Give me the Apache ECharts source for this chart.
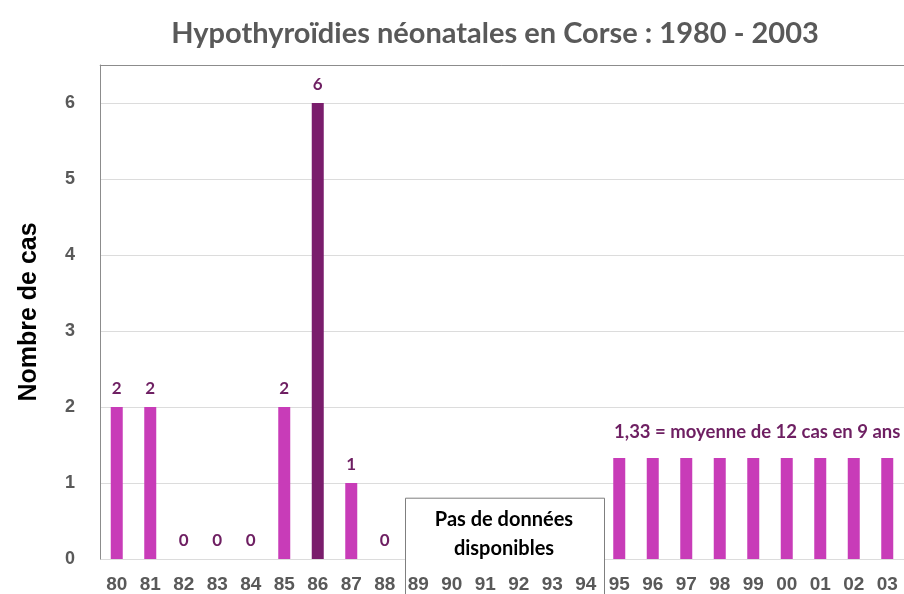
<!DOCTYPE html>
<html>
<head>
<meta charset="utf-8">
<script src="https://cdn.jsdelivr.net/npm/echarts@6/dist/echarts.min.js"></script>
<style>
  html, body { margin: 0; padding: 0; background: #fff; }
  #chart { width: 904px; height: 594px; }
</style>
</head>
<body>
<div id="chart"></div>
<script>
// years shown on the x axis (1980 - 2003)
const years = ['80', '81', '82', '83', '84', '85', '86', '87', '88', '89', '90', '91',
  '92', '93', '94', '95', '96', '97', '98', '99', '00', '01', '02', '03'];
// number of cases, null where there is no data
const cases = [2, 2, 0, 0, 0, 2, 6, 1, 0, null, null, null, null, null, null,
  1.33, 1.33, 1.33, 1.33, 1.33, 1.33, 1.33, 1.33, 1.33];
const peakYear = '86';
const labelledYears = ['80', '81', '82', '83', '84', '85', '86', '87', '88'];
const noDataYears = ['89', '94'];
const averageYears = ['95', '03'];
const averageValue = 1.33;
const yTicks = [0, 1, 2, 3, 4, 5, 6];

const magenta = '#c83cb8';
const darkPurple = '#7a1d6c';
const labelPurple = '#6e1f62';

const myChart = echarts.init(document.getElementById('chart'));

const barData = cases.map((v, i) => {
  const item = { value: v };
  if (years[i] === peakYear) item.itemStyle = { color: darkPurple };
  item.label = { show: labelledYears.indexOf(years[i]) >= 0 && v !== null };
  return item;
});

const option = {
  animation: false,
  textStyle: { fontFamily: 'Liberation Sans' },
  title: {
    text: 'Hypothyroïdies néonatales en Corse : 1980 - 2003',
    left: 490,
    textAlign: 'center',
    top: 14,
    textStyle: { fontFamily: 'Lato', fontSize: 29, fontWeight: 'bold', color: '#595959' }
  },
  grid: { left: 100, right: -1, top: 65, bottom: 35 },
  xAxis: {
    type: 'category',
    data: years,
    z: 3,
    axisTick: { show: false },
    axisLine: { show: false },
    axisLabel: {
      color: '#595959', fontSize: 19, fontWeight: 'bold', margin: 16, interval: 0,
      fontFamily: '"Liberation Sans Narrow", "Liberation Sans"'
    }
  },
  yAxis: {
    type: 'value',
    min: 0, max: 6.5, interval: 1,
    name: 'Nombre de cas',
    nameLocation: 'middle',
    nameGap: 58,
    nameTextStyle: { fontSize: 25, fontWeight: 'bold', color: '#000', fontFamily: 'Liberation Sans' },
    axisLine: { show: true, lineStyle: { color: '#8c8c8c' } },
    axisTick: { show: false },
    axisLabel: {
      color: '#595959', fontSize: 18, fontWeight: 'bold', margin: 25,
      formatter: v => (yTicks.indexOf(v) >= 0 ? String(v) : '')
    },
    splitLine: { lineStyle: { color: '#dcdcdc' } }
  },
  series: [{
    type: 'bar',
    data: barData,
    barWidth: 12,
    itemStyle: { color: magenta },
    label: {
      position: 'top',
      distance: 10,
      color: labelPurple,
      fontFamily: 'Lato',
      fontWeight: 'bold',
      fontSize: 17
    }
  }]
};

myChart.setOption(option);

// annotations placed through the chart's own scales
const gridTop = myChart.convertToPixel({ yAxisIndex: 0 }, 6.5);
const plotL = myChart.convertToPixel({ xAxisIndex: 0 }, years[0]) - 17;
const boxL = myChart.convertToPixel({ xAxisIndex: 0 }, noDataYears[0]);
const boxR = myChart.convertToPixel({ xAxisIndex: 0 }, noDataYears[1]);
const half = (boxR - boxL) / 10;
const boxTop = myChart.convertToPixel({ yAxisIndex: 0 }, 0.8);
const avgL = myChart.convertToPixel({ xAxisIndex: 0 }, averageYears[0]);
const avgR = myChart.convertToPixel({ xAxisIndex: 0 }, averageYears[1]);
const avgY = myChart.convertToPixel({ yAxisIndex: 0 }, averageValue);

myChart.setOption({
  graphic: [
    {
      type: 'line',
      shape: { x1: plotL, y1: gridTop + 0.5, x2: 904, y2: gridTop + 0.5 },
      style: { stroke: '#8c8c8c', lineWidth: 1 },
      z: 1
    },
    {
      type: 'rect',
      shape: { x: boxL - half + 4, y: boxTop, width: boxR - boxL + 2 * half - 2, height: 120 },
      style: { fill: '#fff', stroke: '#7f7f7f', lineWidth: 1 },
      z: 1
    },
    {
      type: 'text',
      x: (boxL + boxR) / 2 + 2,
      y: boxTop + 7,
      style: {
        text: 'Pas de données\ndisponibles',
        align: 'center',
        fontFamily: 'Lato', fontWeight: 'bold', fontSize: 20, lineHeight: 29,
        fill: '#000'
      },
      z: 2
    },
    {
      type: 'text',
      x: (avgL + avgR) / 2 + 4,
      y: avgY - 35,
      style: {
        text: averageValue.toFixed(2).replace('.', ',') + ' = moyenne de 12 cas en 9 ans',
        align: 'center',
        fontFamily: 'Lato', fontWeight: 'bold', fontSize: 18.5,
        fill: labelPurple
      },
      z: 2
    }
  ]
});
</script>
</body>
</html>
